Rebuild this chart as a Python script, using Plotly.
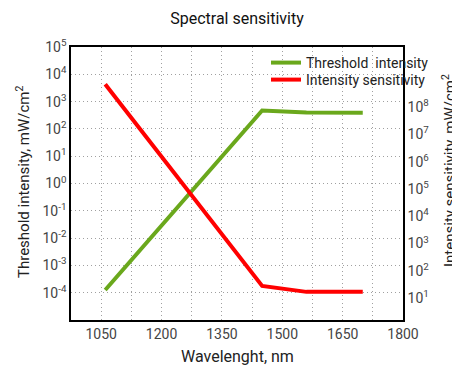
import plotly.graph_objects as go

# Data
wavelength_threshold = [1060, 1450, 1560, 1700]
threshold_intensity = [1.25e-4, 470, 400, 390]

wavelength_sensitivity = [1060, 1450, 1560, 1700]
intensity_sensitivity = [6.8e8, 28, 17, 17]

x_tickvals = [1050, 1125, 1200, 1275, 1350, 1425, 1500, 1575, 1650, 1725, 1800]
x_ticktext = ["1050", "", "1200", "", "1350", "", "1500", "", "1650", "", "1800"]

left_exponents = [-4, -3, -2, -1, 0, 1, 2, 3, 4, 5]
right_exponents = [1, 2, 3, 4, 5, 6, 7, 8]


def pow_label(p):
    return "10<sup>%d</sup>" % p


FONT = "Roboto"
GREEN = "#6aa81c"
RED = "#ff0000"
GRID = "#a0a0a0"
DASH = "1px,3px"

# page body has an 8px margin, so the figure is drawn 8px in from the corner
W, H = 452, 362
ML, MR, MT, MB = 63, 57, 39, 50
OFF = 8

fig = go.Figure()
fig.add_trace(go.Scatter(
    x=wavelength_threshold, y=threshold_intensity, mode="lines",
    name="Threshold\u00a0 intensity", line=dict(color=GREEN, width=4),
    yaxis="y", legend="legend"))
fig.add_trace(go.Scatter(
    x=wavelength_sensitivity, y=intensity_sensitivity, mode="lines",
    name="Intensity sensitivity", line=dict(color=RED, width=4),
    yaxis="y2", legend="legend2"))

pl, pr, pt, pb = ML, W - MR, MT, H - MB


def px_x(x):
    return (x - OFF - pl) / (pr - pl)


def px_y(y):
    return (pb - (y - OFF)) / (pb - pt)


legend_common = dict(xanchor="left", yanchor="middle", bgcolor="rgba(0,0,0,0)",
                     font=dict(size=14, color="#222"), itemwidth=30)

fig.update_layout(
    width=W, height=H,
    margin=dict(l=ML, r=MR, t=MT, b=MB),
    paper_bgcolor="white", plot_bgcolor="white",
    font=dict(family=FONT, size=14, color="#333"),
    title=dict(text="Spectral sensitivity", x=0.5, xref="paper",
               y=1 - (18 - OFF) / H, yanchor="middle",
               font=dict(family=FONT, size=16, color="#111")),
    showlegend=True,
    legend=dict(x=px_x(266), y=px_y(63), **legend_common),
    legend2=dict(x=px_x(266), y=px_y(80), **legend_common),
    xaxis=dict(range=[975, 1800], tickvals=x_tickvals, ticktext=x_ticktext,
               showgrid=True, gridcolor=GRID, griddash=DASH, gridwidth=1,
               showline=True, linecolor="black", linewidth=1.5, mirror=True,
               ticks="", tickfont=dict(size=14, color="#444"),
               zeroline=False),
    yaxis=dict(type="log", range=[-5, 5],
               tickvals=[10.0 ** p for p in left_exponents],
               ticktext=[pow_label(p) for p in left_exponents],
               showgrid=True, gridcolor=GRID, griddash=DASH, gridwidth=1,
               showline=True, linecolor="black", linewidth=1.5, mirror=True,
               ticks="", tickfont=dict(size=14, color="#444"),
               zeroline=False),
    yaxis2=dict(type="log", range=[0.2, 10.2], overlaying="y", side="right",
                tickvals=[10.0 ** p for p in right_exponents],
                ticktext=[pow_label(p) for p in right_exponents],
                showgrid=False, showline=True, linecolor="black", linewidth=1.5,
                ticks="", tickfont=dict(size=14, color="#444"),
                zeroline=False),
)

annotations = [
    ("Wavelenght, nm", 237, 356, 0, 16),
    ("Threshold intensity, mW/cm<sup>2</sup>", 23, 182, -90, 15),
    ("Intensity sensitivity, mW/cm<sup>2</sup>", 449, 171, -90, 15),
]
for text, ax_, ay_, ang, size in annotations:
    fig.add_annotation(text=text, x=px_x(ax_), y=px_y(ay_), xref="paper",
                       yref="paper", xanchor="center", yanchor="middle",
                       textangle=ang, showarrow=False,
                       font=dict(size=size, color="#222"))

fig.write_html("out.html")
